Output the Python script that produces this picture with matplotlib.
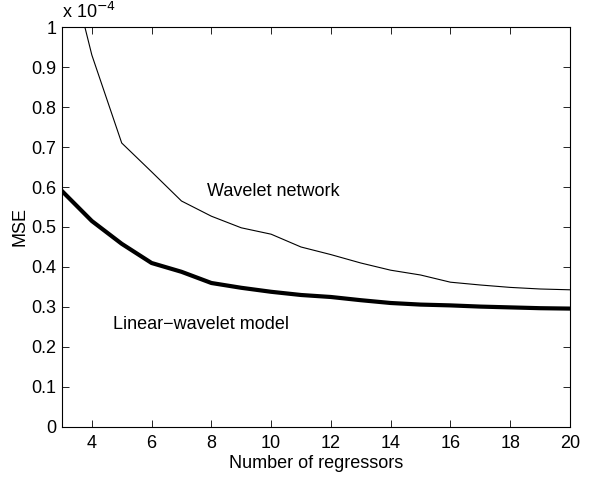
import matplotlib
matplotlib.use("Agg")

import matplotlib.pyplot as plt

# -----------------------------
# Data (MSE in units of 1e-4)
# -----------------------------
regressors = list(range(3, 21))
wavelet_net = [1.23, 0.93, 0.71, 0.638, 0.565, 0.527, 0.498, 0.482, 0.45,
               0.431, 0.41, 0.392, 0.38, 0.362, 0.355, 0.349, 0.345, 0.343]
linear_wavelet = [0.59, 0.515, 0.458, 0.41, 0.388, 0.36, 0.348, 0.338, 0.33,
                  0.325, 0.317, 0.31, 0.306, 0.304, 0.301, 0.299, 0.297, 0.296]

plt.rcParams["font.family"] = ["Liberation Sans", "DejaVu Sans"]
plt.rcParams["font.size"] = 13

fig = plt.figure(figsize=(5.9, 4.79), dpi=100)
ax = fig.add_axes([0.105, 0.1086, 0.861, 0.835])

ax.plot(regressors, wavelet_net, color="black", linewidth=0.8)
ax.plot(regressors, linear_wavelet, color="black", linewidth=3)

ax.set_xlim(3, 20)
ax.set_ylim(0, 1)
ax.set_xticks(range(4, 21, 2))
ax.set_yticks([i / 10 for i in range(11)])
ax.set_yticklabels(["0"] + ["%.1f" % (i / 10) for i in range(1, 10)] + ["1"])
ax.tick_params(direction="in", top=True, right=True, length=5, width=0.6)
ax.tick_params(axis="x", pad=6)
ax.tick_params(axis="y", pad=4)
for s in ax.spines.values():
    s.set_linewidth(0.8)

ax.set_xlabel("Number of regressors", labelpad=2)
ax.set_ylabel("MSE", labelpad=2)

ax.text(0.0, 1.012, "x 10$^{-4}$", transform=ax.transAxes, ha="left", va="bottom")
ax.text(7.84, 0.588, "Wavelet network", ha="left", va="center")
ax.text(4.72, 0.255, "Linear\u2212wavelet model", ha="left", va="center")

fig.savefig("out.png", dpi=100)
plt.close(fig)
